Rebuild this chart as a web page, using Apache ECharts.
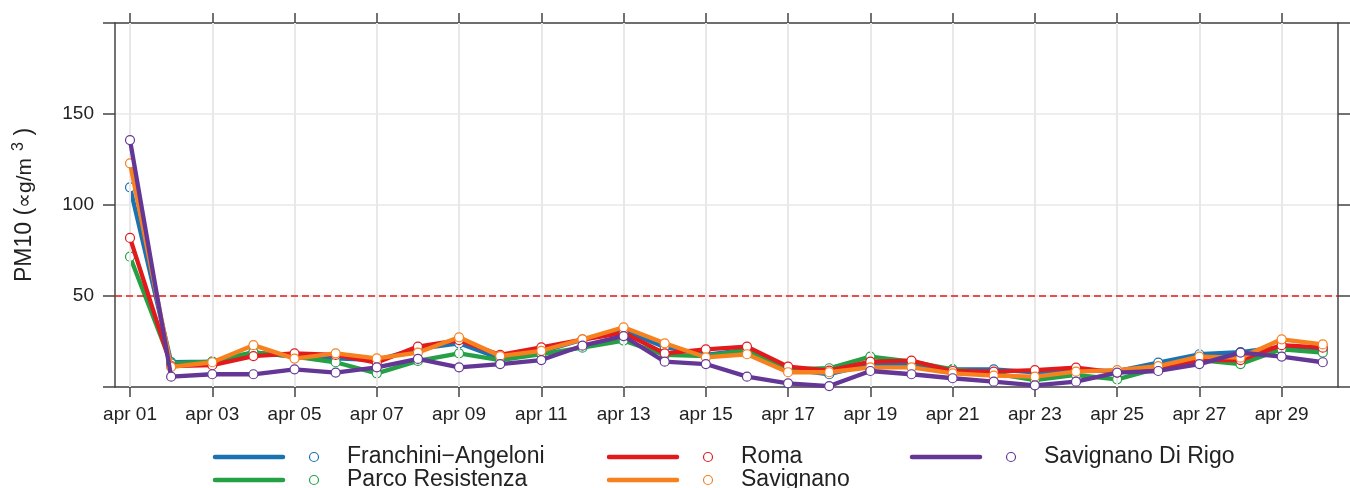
<!DOCTYPE html>
<html>
<head>
<meta charset="utf-8">
<title>PM10 aprile</title>
<script src="https://cdn.jsdelivr.net/npm/echarts@6/dist/echarts.min.js"></script>
<style>
  html, body { margin: 0; padding: 0; background: #fff; }
  #chart { width: 1350px; height: 488px; }
</style>
</head>
<body>
<div id="chart"></div>
<script>
// giorni di aprile (indice 0 = apr 01)
const days = Array.from({ length: 30 }, (e, i) => i)
const tickDays = [0, 2, 4, 6, 8, 10, 12, 14, 16, 18, 20, 22, 24, 26, 28]
const tickLabels = ['apr 01', 'apr 03', 'apr 05', 'apr 07', 'apr 09', 'apr 11', 'apr 13', 'apr 15',
  'apr 17', 'apr 19', 'apr 21', 'apr 23', 'apr 25', 'apr 27', 'apr 29']
const yTicks = [50, 100, 150]
const limit = 50

const stations = ['Franchini\u2212Angeloni', 'Parco Resistenza', 'Roma', 'Savignano', 'Savignano Di Rigo']
const colors = ['#1a72b2', '#25a045', '#e31a1c', '#f7801f', '#643796']

const franchini = [109.7, 13.7, 13.9, 19.0, 16.7, 15.7, 14.8, 21.0, 24.0, 15.7, 19.4, 26.0, 30.9, 22.0, 17.6, 20.5,
  10.0, 7.0, 12.6, 12.1, 9.7, 9.7, 8.0, 9.0, 8.8, 13.4, 18.0, 19.2, 22.0, 20.5]
const parco = [71.6, 13.0, 13.9, 19.0, 16.7, 13.6, 7.5, 14.3, 18.5, 14.8, 18.1, 21.6, 25.5, 17.6, 17.0, 20.3,
  9.7, 10.3, 16.7, 13.9, 9.7, 7.5, 3.8, 6.6, 4.2, 10.3, 14.8, 12.6, 20.7, 18.9]
const roma = [81.9, 11.5, 12.0, 17.0, 18.5, 17.6, 13.4, 22.2, 25.8, 17.6, 21.8, 26.0, 29.8, 18.5, 20.7, 22.2,
  11.2, 9.0, 13.9, 14.5, 8.8, 8.4, 9.3, 10.6, 7.9, 10.8, 14.8, 14.8, 23.0, 21.6]
const savignano = [122.9, 11.0, 13.6, 23.0, 15.6, 18.5, 15.7, 18.9, 27.3, 17.0, 19.9, 26.2, 32.8, 24.0, 16.3, 18.0,
  8.1, 8.1, 10.8, 10.8, 7.5, 6.2, 5.7, 8.4, 9.3, 11.5, 16.7, 16.1, 26.2, 23.4]
const diRigo = [135.7, 5.7, 7.0, 7.0, 9.7, 7.9, 10.8, 15.4, 10.8, 12.6, 14.8, 22.7, 28.0, 13.9, 12.6, 5.7,
  2.0, 0.5, 8.8, 7.0, 4.8, 2.9, 0.9, 2.9, 7.9, 8.8, 12.6, 18.9, 16.7, 13.6]
const values = [franchini, parco, roma, savignano, diRigo]

const font = '"Liberation Sans", Arial, sans-serif'
const axisColor = '#444'
const gridColor = '#e8e8e8'
const xMin = -0.365
const xMax = 29.37

const chart = echarts.init(document.getElementById('chart'))

const xBase = {
  type: 'value',
  min: xMin,
  max: xMax,
  axisLine: { show: true, onZero: false, lineStyle: { color: axisColor, width: 1.5 } },
  axisTick: { show: true, inside: false, length: 10, customValues: tickDays, lineStyle: { color: axisColor, width: 1.5 } },
  splitLine: { show: false }
}
const yBase = {
  type: 'value',
  min: 0,
  max: 200,
  interval: 50,
  axisLine: { show: true, onZero: false, lineStyle: { color: axisColor, width: 1.5 } },
  axisTick: { show: true, inside: false, length: 12, lineStyle: { color: axisColor, width: 1.5 } }
}

// legenda disegnata a mano: linea + cerchio vuoto + testo
const legendGraphics = []
stations.forEach((name, i) => {
  const x0 = [215, 609, 912][Math.floor(i / 2)]
  const y0 = [457, 480][i % 2]
  legendGraphics.push({
    type: 'line',
    shape: { x1: x0, y1: y0, x2: x0 + 68, y2: y0 },
    style: { stroke: colors[i], lineWidth: 4.5, lineCap: 'round' },
    silent: true
  })
  legendGraphics.push({
    type: 'circle',
    shape: { cx: x0 + 99, cy: y0, r: 4.5 },
    style: { fill: '#fff', stroke: colors[i], lineWidth: 1.2 },
    silent: true
  })
  legendGraphics.push({
    type: 'text',
    x: x0 + 132,
    y: y0,
    style: { text: name, fill: '#222', font: '23px ' + font, verticalAlign: 'middle' },
    silent: true
  })
})

const option = {
  animation: false,
  backgroundColor: '#fff',
  textStyle: { fontFamily: font },
  grid: { left: 115, right: 12, top: 23, bottom: 101, containLabel: false },
  xAxis: [
    {
      ...xBase,
      position: 'bottom',
      axisLabel: {
        show: true,
        customValues: tickDays,
        formatter: (v) => tickLabels[tickDays.indexOf(Math.round(v))] || '',
        color: '#222',
        fontSize: 19,
        margin: 18,
        fontFamily: font
      }
    },
    {
      ...xBase,
      position: 'top',
      axisLabel: { show: false }
    }
  ],
  yAxis: [
    {
      ...yBase,
      position: 'left',
      name: '{a|PM10 (}{b|\u221dg/m}{c|3}{a| )}',
      nameLocation: 'middle',
      nameRotate: 90,
      nameGap: 76,
      nameTextStyle: {
        color: '#222',
        rich: {
          a: { fontSize: 23, fontFamily: font, color: '#222' },
          b: { fontSize: 21, fontFamily: font, color: '#222' },
          c: { fontSize: 16, fontFamily: font, color: '#222', padding: [0, 0, 12, 7] }
        }
      },
      axisLabel: {
        formatter: (v) => (yTicks.indexOf(v) >= 0 ? String(v) : ''),
        color: '#222',
        fontSize: 19,
        margin: 21,
        fontFamily: font
      },
      splitLine: { show: true, lineStyle: { color: gridColor, width: 1.5 } }
    },
    {
      ...yBase,
      position: 'right',
      axisLabel: { show: false },
      splitLine: { show: false }
    }
  ],
  graphic: legendGraphics,
  series: [
    // griglia verticale e soglia a 50
    {
      type: 'line',
      data: [],
      z: 1,
      silent: true,
      markLine: {
        silent: true,
        symbol: 'none',
        label: { show: false },
        lineStyle: { color: gridColor, width: 2, type: 'solid' },
        data: tickDays.map(d => ({ xAxis: d }))
      }
    },
    {
      type: 'line',
      data: [],
      z: 1,
      silent: true,
      markLine: {
        silent: true,
        symbol: 'none',
        label: { show: false },
        lineStyle: { color: '#e31a1c', width: 1.5, type: [7, 4] },
        data: [{ yAxis: limit }]
      }
    },
    ...stations.map((name, i) => ({
      name: name,
      type: 'line',
      xAxisIndex: 0,
      yAxisIndex: 0,
      data: days.map((d, j) => [d, values[i][j]]),
      showSymbol: true,
      symbol: 'circle',
      symbolSize: 9,
      lineStyle: { color: colors[i], width: 4.3 },
      itemStyle: { color: '#fff', borderColor: colors[i], borderWidth: 1.2 },
      emphasis: { disabled: true },
      z: 3 + i
    }))
  ]
}

chart.setOption(option)
</script>
</body>
</html>
